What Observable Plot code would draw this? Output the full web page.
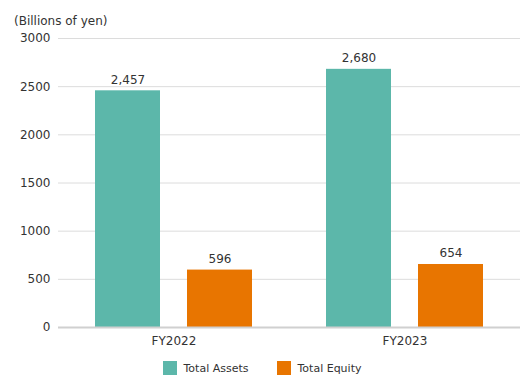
<!DOCTYPE html>
<html>
<head>
<meta charset="utf-8">
<script src="https://cdn.jsdelivr.net/npm/d3@7"></script>
<script src="https://cdn.jsdelivr.net/npm/@observablehq/plot@0.6"></script>
<style>
  html, body { margin: 0; padding: 0; background: #fff; }
  body { width: 530px; height: 391px; font-family: "DejaVu Sans", sans-serif; color: #333; }
  #title { height: 30px; font-size: 12px; line-height: 12px; padding-left: 14px; padding-top: 15px; box-sizing: border-box; }
  #legend { display: flex; justify-content: center; align-items: center; font-size: 11px; margin-top: 11px; padding-right: 6px; }
  .item { display: flex; align-items: center; margin: 0 14px; }
  .sw { width: 14px; height: 14px; margin-right: 7px; }
</style>
</head>
<body>
<div id="title">(Billions of yen)</div>
<div id="chart"></div>
<div id="legend"></div>
<script>
const periods = ["FY2022", "FY2023"];
const seriesNames = ["Total Assets", "Total Equity"];
const totalAssets = [2457, 2680];
const totalEquity = [596, 654];
const yTicks = [0, 500, 1000, 1500, 2000, 2500, 3000];
const colors = ["#5cb7aa", "#e87500"];

const data = [];
periods.forEach((p, i) => {
  data.push({period: p, series: seriesNames[0], value: totalAssets[i]});
  data.push({period: p, series: seriesNames[1], value: totalEquity[i]});
});

const chart = Plot.plot({
  width: 530,
  height: 320,
  marginLeft: 58,
  marginRight: 10,
  marginTop: 8,
  marginBottom: 23,
  style: {fontFamily: "DejaVu Sans, sans-serif", fontSize: "12px", color: "#333", background: "#fff"},
  fx: {domain: periods, padding: 0, label: null, axis: "bottom", tickSize: 0, tickPadding: 9},
  x: {domain: seriesNames, paddingInner: 0.29, paddingOuter: 0.4, axis: null},
  y: {domain: [0, 3000], ticks: yTicks, tickSize: 0, tickPadding: 8, tickFormat: d => String(d), label: null},
  color: {domain: seriesNames, range: colors},
  marks: [
    Plot.gridY(yTicks.filter(d => d > 0), {stroke: "#dcdcdc", strokeOpacity: 1}),
    Plot.barY(data, {fx: "period", x: "series", y: "value", fill: "series"}),
    Plot.text(data, {fx: "period", x: "series", y: "value", text: d => d3.format(",")(d.value), lineAnchor: "bottom", dy: -7, fill: "#333", fontSize: 12}),
    Plot.ruleY([0], {stroke: "#d0d0d0", strokeWidth: 2})
  ]
});
document.getElementById("chart").appendChild(chart);

const legend = document.getElementById("legend");
seriesNames.forEach((s, i) => {
  const item = document.createElement("div");
  item.className = "item";
  const sw = document.createElement("div");
  sw.className = "sw";
  sw.style.background = colors[i];
  const lab = document.createElement("span");
  lab.textContent = s;
  item.appendChild(sw);
  item.appendChild(lab);
  legend.appendChild(item);
});
</script>
</body>
</html>
